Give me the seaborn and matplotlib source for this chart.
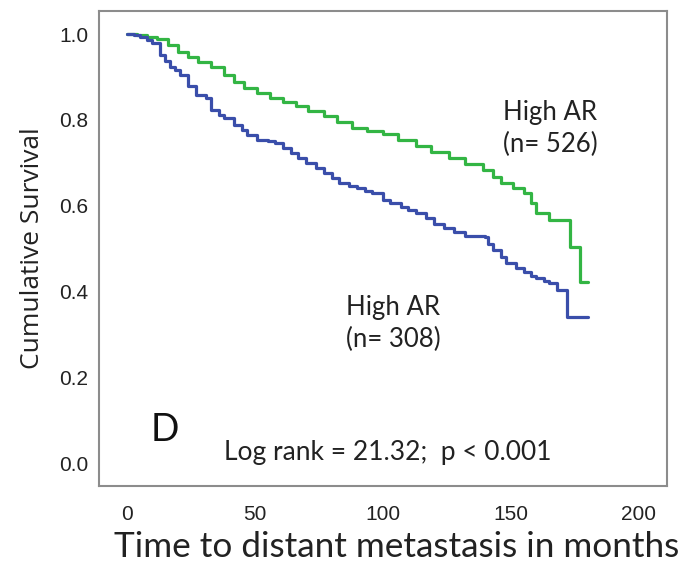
import numpy as np
import pandas as pd
import matplotlib
matplotlib.use("Agg")
import matplotlib.pyplot as plt
import seaborn as sns

# ── Kaplan-Meier step points ──
green_t = [0, 4, 8, 12, 16, 20, 24, 28, 33, 38, 42, 46, 51, 56, 61, 66, 71, 77,
           82, 88, 94, 100, 106, 113, 119, 126, 132, 139, 143, 146, 151, 155,
           158, 160, 165, 173, 177, 180]
green_s = [1.0, 0.997, 0.993, 0.988, 0.974, 0.957, 0.946, 0.935, 0.922, 0.905,
           0.888, 0.874, 0.862, 0.851, 0.842, 0.832, 0.820, 0.808, 0.795, 0.782,
           0.774, 0.768, 0.754, 0.738, 0.725, 0.711, 0.697, 0.683, 0.667, 0.652,
           0.640, 0.630, 0.606, 0.582, 0.567, 0.504, 0.423, 0.423]

blue_t = [0, 3, 5, 8, 10, 13, 15, 17, 19, 21, 24, 27, 31, 33, 36, 38, 42, 45,
          47, 51, 55, 58, 61, 64, 67, 70, 74, 77, 80, 83, 87, 90, 93, 96, 100,
          103, 107, 110, 113, 117, 120, 124, 128, 132, 140, 141, 143, 146, 148,
          152, 155, 158, 160, 163, 165, 168, 172, 180]
blue_s = [1.0, 0.997, 0.994, 0.985, 0.979, 0.952, 0.938, 0.924, 0.915, 0.905,
          0.878, 0.858, 0.851, 0.823, 0.812, 0.804, 0.788, 0.776, 0.765, 0.753,
          0.750, 0.746, 0.735, 0.722, 0.710, 0.699, 0.687, 0.676, 0.664, 0.652,
          0.646, 0.641, 0.635, 0.629, 0.613, 0.606, 0.597, 0.590, 0.582, 0.572,
          0.558, 0.548, 0.538, 0.530, 0.528, 0.510, 0.497, 0.480, 0.466, 0.455,
          0.446, 0.437, 0.431, 0.425, 0.419, 0.403, 0.341, 0.341]

x_ticks = [0, 50, 100, 150, 200]
y_ticks = [0.0, 0.2, 0.4, 0.6, 0.8, 1.0]

GREEN = "#33b544"
BLUE = "#3a4eaa"
SPINE = "#8c8c8c"
TXT = "#222222"

df = pd.concat([
    pd.DataFrame({"t": green_t, "s": green_s, "grp": "526"}),
    pd.DataFrame({"t": blue_t, "s": blue_s, "grp": "308"}),
], ignore_index=True)

sns.set_style("white")
plt.rcParams["font.family"] = ["Lato", "DejaVu Sans"]

fig = plt.figure(figsize=(6.94, 5.72), dpi=100)
ax = fig.add_axes([0.142, 0.150, 0.819, 0.831])

sns.lineplot(data=df, x="t", y="s", hue="grp", palette={"526": GREEN, "308": BLUE},
             estimator=None, sort=False, drawstyle="steps-post",
             linewidth=2.3, legend=False, ax=ax)

ax.set_xlim(-11, 211)
ax.set_ylim(-0.054, 1.054)
ax.set_xticks(x_ticks)
ax.set_yticks(y_ticks)
ax.set_xticklabels([str(v) for v in x_ticks], family="Liberation Sans", fontsize=15)
ax.set_yticklabels([f"{v:.1f}" for v in y_ticks], family="Liberation Sans", fontsize=15)
ax.tick_params(direction="out", length=6.5, width=1.3, color=SPINE, labelcolor=TXT)
ax.tick_params(axis="x", pad=7)
ax.tick_params(axis="y", pad=1)
for sp in ax.spines.values():
    sp.set_color(SPINE)
    sp.set_linewidth(1.5)

ax.set_xlabel("Time to distant metastasis in months", fontsize=25.3, color=TXT,
              labelpad=5, x=0.525)
ax.set_ylabel("Cumulative Survival", family="Open Sans", fontsize=19, color=TXT,
              labelpad=10)

ax.text(165.5, 0.78, "High AR\n(n= 526)", ha="center", va="center",
        fontsize=18.5, color=TXT, linespacing=1.35)
ax.text(104, 0.325, "High AR\n(n= 308)", ha="center", va="center",
        fontsize=18.5, color=TXT, linespacing=1.35)
ax.text(9.5, 0.076, "D", ha="left", va="center", fontsize=27, color="#111111")
ax.text(38, 0.024, "Log rank = 21.32;  p < 0.001", ha="left", va="center",
        fontsize=19, color=TXT)

fig.savefig("out.png", dpi=100)
